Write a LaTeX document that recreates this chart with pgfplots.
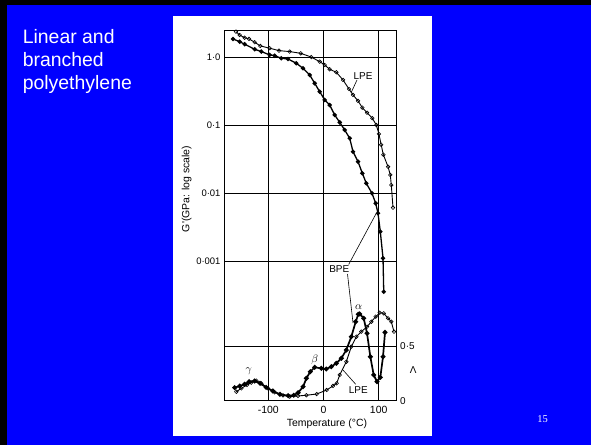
\documentclass[border=0pt]{standalone}
\usepackage{pgfplots}
\pgfplotsset{compat=1.18}
\usepackage{pgfplotstable}
\usepackage{fontspec}
\setmainfont{Liberation Sans}
\newfontfamily\serifnum{Liberation Serif}
\definecolor{slideblue}{RGB}{0,0,255}

\pgfplotstableread{
T G
-158.7 2.42
-152.0 2.16
-142.9 1.97
-135.1 1.89
-124.7 1.69
-114.6 1.49
-97.6 1.38
-80.7 1.27
-61.3 1.23
-41.3 1.16
-22.1 1.02
-6.9 0.873
2.2 0.78
11.2 0.674
23.2 0.609
35.4 0.469
46.2 0.345
53.5 0.282
62.6 0.230
70.4 0.183
78.9 0.154
88.5 0.128
95.7 0.1016
100.5 0.075
104.5 0.052
108.5 0.037
117.0 0.0246
121.1 0.0186
122.9 0.0132
126.0 0.00612
}\lpeG

\pgfplotstableread{
T G
-164.1 1.89
-152.0 1.72
-142.9 1.58
-124.7 1.33
-112.8 1.23
-97.6 1.10
-88.5 1.07
-76.5 0.98
-64.4 0.957
-49.3 0.827
-37.2 0.698
-25.0 0.556
-16.0 0.419
-6.9 0.315
2.2 0.238
11.2 0.200
20.3 0.143
29.4 0.111
38.4 0.0858
47.5 0.0647
53.5 0.0410
62.6 0.0292
70.4 0.0197
77.6 0.0140
87.9 0.00998
94.6 0.00711
98.8 0.00506
103.0 0.00271
107.9 0.0011
109.2 0.000352
}\bpeG

\pgfplotstableread{
T L
-161 0.119
-152 0.134
-143 0.150
-135 0.174
-125 0.180
-115 0.159
-104 0.122
-92 0.089
-79 0.058
-64 0.046
-54 0.050
-46 0.073
-37 0.128
-31 0.205
-24 0.265
-16 0.305
-4 0.296
5 0.290
14.1 0.311
23.2 0.342
32.3 0.388
41.3 0.463
50.4 0.585
58.4 0.722
63.0 0.790
65.6 0.793
72.9 0.753
78.9 0.616
84.9 0.402
91.0 0.235
97.0 0.174
103.0 0.214
107.9 0.402
111.5 0.625
}\bpeL

\pgfplotstableread{
T L
-158.1 0.082
-149.0 0.113
-138.7 0.144
-130.9 0.165
-121.8 0.183
-112.8 0.159
-100.6 0.113
-88.5 0.077
-73.4 0.049
-61.3 0.037
-46.2 0.043
-31.2 0.050
-12.3 0.061
5.8 0.098
17.2 0.135
23.9 0.159
29.4 0.235
41.3 0.356
50.4 0.494
59.5 0.585
68.5 0.631
78.9 0.676
86.7 0.722
94.6 0.768
101.9 0.804
109.2 0.799
117.0 0.753
122.9 0.722
127.8 0.631
}\lpeL

\begin{document}
\begin{tikzpicture}
\useasboundingbox (0,0) rectangle (591bp,445bp);
\fill[black] (0,0) rectangle (591bp,445bp);
\fill[slideblue] (6.5bp,0) rectangle (591bp,440bp);
\fill[white] (172.7bp,9.3bp) rectangle (432bp,429bp);
\begin{scope}[every node/.style={anchor=base west, text=white, inner sep=0pt, font=\fontsize{19.5}{23.4}\selectfont}]
\node at (22.6bp,401.7bp) {Linear and};
\node at (22.6bp,378.3bp) {branched};
\node at (22.6bp,355.7bp) {polyethylene};
\end{scope}
\node[anchor=base, text=white, inner sep=0pt, font=\serifnum\fontsize{10.5}{12}\selectfont] at (542.5bp,22.3bp) {15};

\begin{axis}[
  at={(224bp,44.3bp)}, anchor=south west,
  scale only axis, width=172.7bp, height=370bp,
  xmin=-180.4, xmax=132.7,
  ymode=log, ymin=8.69e-6, ymax=2.5,
  xtick={-100,0,100}, xticklabels={-100,0,100},
  ytick={1,0.1,0.01,0.001}, yticklabels={1·0,0·1,0·01,0·001},
  yminorticks=false, xminorticks=false,
  grid=major, grid style={black, line width=0.75bp},
  major tick length=0pt,
  axis line style={line width=1bp},
  xticklabel style={font=\fontsize{10.5}{11}\selectfont, yshift=-2bp},
  yticklabel style={font=\fontsize{9.5}{10}\selectfont},
  xlabel={Temperature (°C)},
  xlabel style={at={(rel axis cs:0.596,-0.0684)}, anchor=base, font=\fontsize{10.5}{11}\selectfont, inner sep=0pt},
  ylabel={G\textquotesingle(GPa: log scale)},
  ylabel style={at={(rel axis cs:-0.216,0.572)}, anchor=center, font=\fontsize{10.5}{11}\selectfont, inner sep=0pt},
  clip=false,
]
\addplot[black, line width=0.9bp, mark=o, mark size=1.8bp, mark options={fill=white, line width=0.6bp}] table[x=T,y=G] {\lpeG};
\addplot[black, line width=1.3bp, mark=*, mark size=1.5bp] table[x=T,y=G] {\bpeG};
\node[font=\fontsize{10}{10}\selectfont] at (axis cs:71.6,0.533) {LPE};
\draw[line width=0.6bp] (axis cs:60.7,0.469) -- (axis cs:50.4,0.3085);
\node[font=\fontsize{10}{10}\selectfont] at (axis cs:28.6,7.57e-4) {BPE};
\draw[line width=0.6bp] (axis cs:45.7,8.9e-4) -- (axis cs:95.7,5.06e-3);
\draw[line width=0.6bp] (axis cs:43.5,6.43e-4) -- (axis cs:53.5,1.217e-4);
\end{axis}

\begin{axis}[
  at={(224bp,44.3bp)}, anchor=south west,
  scale only axis, width=172.7bp, height=370bp,
  xmin=-180.4, xmax=132.7,
  ymin=0, ymax=3.382,
  axis x line=none, axis y line*=right,
  ytick={0,0.5}, yticklabels={0,0·5},
  ymajorgrids, grid style={black, line width=0.75bp},
  major tick length=0pt,
  axis line style={line width=1bp},
  yticklabel style={font=\fontsize{10}{11}\selectfont},
  ylabel={Λ},
  ylabel style={rotate=-90, at={(rel axis cs:1.096,0.083)}, anchor=center, font=\fontsize{10}{11}\selectfont, inner sep=0pt},
  clip=false,
]
\addplot[black, line width=0.9bp, mark=o, mark size=1.8bp, mark options={fill=white, line width=0.6bp}] table[x=T,y=L] {\lpeL};
\addplot[black, line width=1.7bp, mark=*, mark size=1.5bp] table[x=T,y=L] {\bpeL};
\node[font=\fontsize{11}{11}\selectfont] at (axis cs:63.8,0.859) {$\alpha$};
\node[font=\fontsize{11}{11}\selectfont] at (axis cs:-16,0.372) {$\beta$};
\node[font=\fontsize{11}{11}\selectfont] at (axis cs:-135.6,0.271) {$\gamma$};
\node[font=\fontsize{10}{10}\selectfont] at (axis cs:63.1,0.093) {LPE};
\draw[line width=0.6bp] (axis cs:58.4,0.15) -- (axis cs:35.4,0.28);
\end{axis}
\end{tikzpicture}
\end{document}
